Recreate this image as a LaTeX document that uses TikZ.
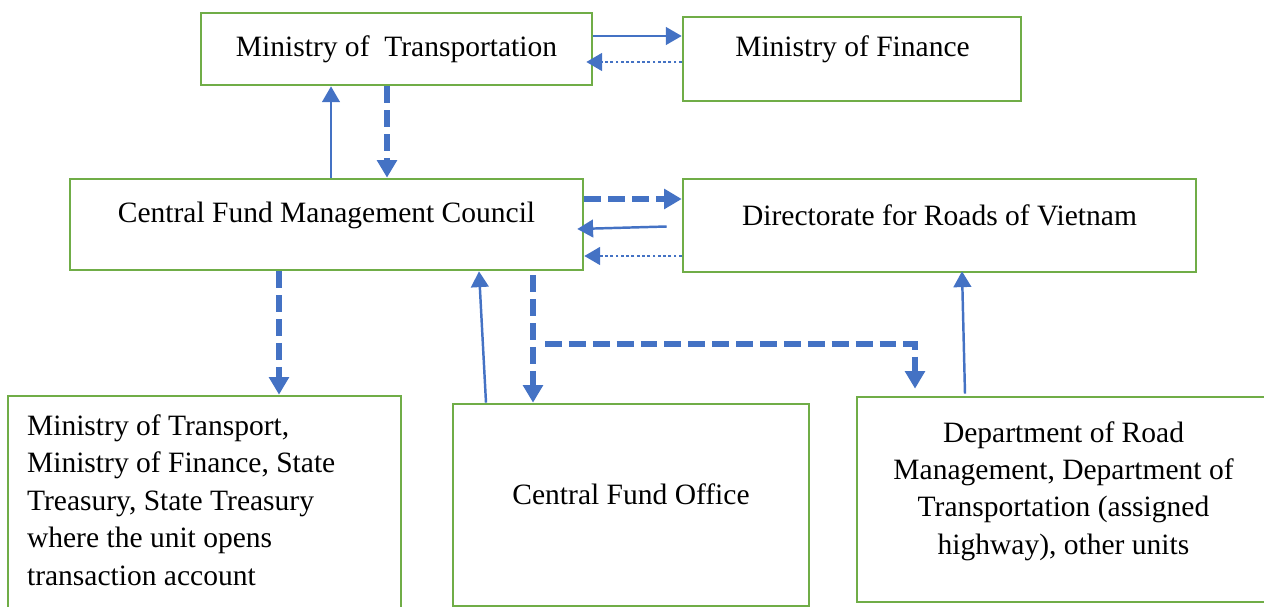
\documentclass[tikz,border=0pt]{standalone}
\usepackage{fontspec}
\setmainfont{Liberation Serif}
\usetikzlibrary{arrows.meta,calc}
\definecolor{boxgreen}{HTML}{70AD47}
\definecolor{arrblue}{HTML}{4472C4}
\begin{document}
\begin{tikzpicture}[x=0.02cm,y=-0.02cm,
  box/.style={draw=boxgreen,line width=1.5pt,fill=none,inner sep=0pt},
  lbl/.style={font=\fontsize{16.8}{21.3}\selectfont,inner sep=0pt,text=black},
  tip/.style={-{Triangle[length=9pt,width=10pt]}},
  bigtip/.style={-{Triangle[length=10pt,width=11pt]}},
  solidarr/.style={tip,draw=arrblue,line width=1.4pt},
  dashedarr/.style={bigtip,draw=arrblue,line width=3.2pt,dash pattern=on 9.6pt off 4pt},
  dottedarr/.style={tip,draw=arrblue,line width=1.6pt,dash pattern=on 1.6pt off 1.4pt}]
\useasboundingbox (0,0) rectangle (1264,607);
% boxes
\node[box,minimum width=7.82cm,minimum height=1.44cm] (mot) at (396.5,49) {};
\node[box,minimum width=6.76cm,minimum height=1.68cm] (mof) at (852,59) {};
\node[box,minimum width=10.26cm,minimum height=1.82cm] (cfmc) at (326.5,224.5) {};
\node[box,minimum width=10.26cm,minimum height=1.86cm] (drv) at (939.5,225.5) {};
\node[box,minimum width=7.86cm,minimum height=4.88cm] (bl) at (204.5,518) {};
\node[box,minimum width=7.12cm,minimum height=4.04cm] (cfo) at (631,505) {};
\node[box,minimum width=8.26cm,minimum height=4.10cm] (dept) at (1063.5,499.5) {};
% labels
\node[lbl] (tmot) at (396.5,49) {Ministry of\ \ Transportation};
\node[lbl] (tmof) at (852.5,49) {Ministry of Finance};
\node[lbl] (tcfmc) at (326.5,215) {Central Fund Management Council};
\node[lbl] (tdrv) at (939.5,215) {Directorate for Roads of Vietnam};
\node[lbl,align=left,anchor=west] (tbl) at ($(bl.west)+(20,-18)$) {Ministry of Transport,\\Ministry of Finance, State\\Treasury, State Treasury\\where the unit opens\\transaction account};
\node[lbl] (tcfo) at (631,494) {Central Fund Office};
\node[lbl,align=center] (tdept) at (1063.5,491) {Department of Road\\Management, Department of\\Transportation (assigned\\highway), other units};
% connectors
\coordinate (a1) at ($(mot.east)+(0,-13)$);
\draw[solidarr] (a1) -- (a1 -| mof.west);
\coordinate (a2) at ($(mof.west)+(0,3)$);
\coordinate (a2e) at ($(mot.east)+(-7,13)$);
\draw[dottedarr] (a2) -- (a2e);
\coordinate (a3) at ($(cfmc.north)+(4.5,0)$);
\draw[solidarr] (a3) -- (a3 |- mot.south);
\coordinate (a4) at ($(mot.south)+(-9.5,0)$);
\draw[dashedarr] (a4) -- (a4 |- cfmc.north);
\coordinate (a5) at ($(cfmc.east)+(0,-25.5)$);
\draw[dashedarr] (a5) -- (a5 -| drv.west);
\coordinate (a6) at ($(drv.west)+(-15,1)$);
\coordinate (a6e) at ($(cfmc.east)+(-7,4.5)$);
\draw[solidarr] (a6) -- (a6e);
\coordinate (a7) at ($(drv.west)+(0,30.5)$);
\coordinate (a7e) at ($(cfmc.east)+(0,31.5)$);
\draw[dottedarr] (a7) -- (a7e);
\coordinate (a8) at ($(cfmc.south)+(-47.5,0)$);
\draw[dashedarr] (a8) -- (a8 |- bl.north);
\coordinate (a9) at ($(cfo.north)+(-145,0)$);
\coordinate (a9e) at ($(cfmc.south)+(152.5,0)$);
\draw[solidarr] (a9) -- (a9e);
\coordinate (a10) at ($(cfmc.south)+(206.5,4)$);
\draw[dashedarr] (a10) -- (a10 |- cfo.north);
\coordinate (a11) at ($(cfmc.south)+(218.5,73)$);
\coordinate (a11e) at ($(dept.north)+(-148.5,-7)$);
\draw[dashedarr] (a11) -| (a11e);
\coordinate (a12) at ($(dept.north)+(-98.5,-2)$);
\coordinate (a12e) at ($(drv.south)+(22.5,-2)$);
\draw[solidarr] (a12) -- (a12e);
\end{tikzpicture}
\end{document}
